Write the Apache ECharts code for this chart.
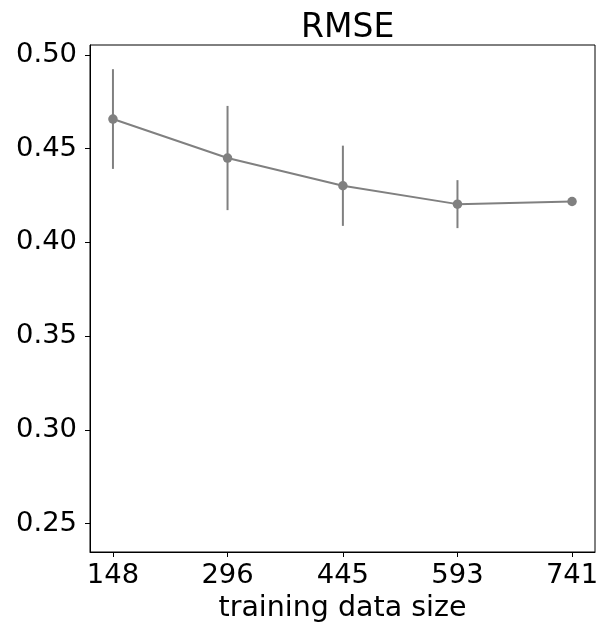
<!DOCTYPE html>
<html>
<head>
<meta charset="utf-8">
<script src="https://cdn.jsdelivr.net/npm/echarts@6/dist/echarts.min.js"></script>
<style>
html,body{margin:0;padding:0;background:#fff;}
#chart{width:602px;height:622px;}
</style>
</head>
<body>
<div id="chart"></div>
<script>
// Data
var sizes = [148, 296, 445, 593, 741];
var rmse = [0.4658, 0.4450, 0.4302, 0.4204, 0.4218];
var errs = [0.0266, 0.0278, 0.0214, 0.0128, 0];
var yTicks = [0.25, 0.30, 0.35, 0.40, 0.45, 0.50];

var FONT = 'DejaVu Sans';
var GREY = '#808080';

var lineData = sizes.map(function (s, i) { return [s, rmse[i]]; });
var errData = sizes.map(function (s, i) { return [s, rmse[i] - errs[i], rmse[i] + errs[i]]; });

var chart = echarts.init(document.getElementById('chart'), null, {renderer: 'canvas'});
chart.setOption({
  animation: false,
  backgroundColor: '#ffffff',
  title: {
    text: 'RMSE',
    left: 342.7,
    textAlign: 'center',
    top: 7,
    textStyle: {fontFamily: FONT, fontSize: 33, fontWeight: 'normal', color: '#000'}
  },
  grid: {
    left: 90, right: 7, top: 45, bottom: 70,
    outerBoundsMode: 'none',
    containLabel: false,
    show: true, borderColor: '#000', borderWidth: 1, backgroundColor: 'transparent'
  },
  xAxis: {
    type: 'value',
    min: 118.35,
    max: 770.65,
    name: 'training data size',
    nameLocation: 'middle',
    nameGap: 42,
    nameTextStyle: {fontFamily: FONT, fontSize: 28.5, color: '#000'},
    axisLine: {show: true, onZero: false, lineStyle: {color: '#000', width: 1}},
    axisTick: {show: true, length: 5, customValues: sizes, lineStyle: {color: '#000', width: 1}},
    axisLabel: {
      customValues: sizes, margin: 10,
      fontFamily: FONT, fontSize: 27.4, color: '#000',
      formatter: function (v) { return String(Math.round(v)); }
    },
    splitLine: {show: false}
  },
  yAxis: {
    type: 'value',
    min: 0.2348,
    max: 0.5053,
    axisLine: {show: true, onZero: false, lineStyle: {color: '#000', width: 1}},
    axisTick: {show: true, length: 5, customValues: yTicks, lineStyle: {color: '#000', width: 1}},
    axisLabel: {
      customValues: yTicks, margin: 13,
      fontFamily: FONT, fontSize: 27.4, color: '#000',
      formatter: function (v) { return v.toFixed(2); }
    },
    splitLine: {show: false}
  },
  series: [
    {
      type: 'custom',
      data: errData,
      z: 1,
      renderItem: function (params, api) {
        var x = api.value(0);
        var lo = api.coord([x, api.value(1)]);
        var hi = api.coord([x, api.value(2)]);
        return {
          type: 'line',
          shape: {x1: lo[0], y1: lo[1], x2: hi[0], y2: hi[1]},
          style: {stroke: GREY, lineWidth: 2}
        };
      }
    },
    {
      type: 'line',
      data: lineData,
      z: 2,
      symbol: 'circle',
      symbolSize: 9.5,
      lineStyle: {color: GREY, width: 2},
      itemStyle: {color: GREY},
      emphasis: {disabled: true}
    }
  ]
});
</script>
</body>
</html>
